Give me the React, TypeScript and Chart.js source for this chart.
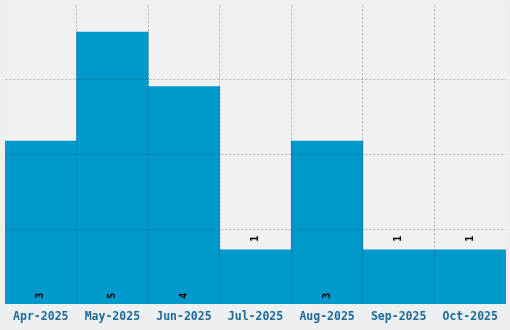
import React, { useEffect, useRef } from "react";
import { Chart, registerables } from "chart.js";

Chart.register(...registerables);

const categories = ["Apr-2025", "May-2025", "Jun-2025", "Jul-2025", "Aug-2025", "Sep-2025", "Oct-2025"];
const values = [3, 5, 4, 1, 3, 1, 1];
const yMax = 5.5;

const BAR = "#0099cc";
const PAGE_BG = "#edf0f1";
const PLOT_BG = "#f1f1f1";
const GRID = "rgba(0,0,0,0.22)";
const TICK = "#1e6a9c";
const CLEAR = "rgba(0,0,0,0)";

const bgPlugin = {
  id: "bgPlugin",
  beforeDraw(chart: any) {
    const { ctx, chartArea } = chart;
    ctx.save();
    ctx.fillStyle = PAGE_BG;
    ctx.fillRect(0, 0, chart.width, chart.height);
    ctx.fillStyle = PLOT_BG;
    ctx.fillRect(chartArea.left, chartArea.top, chartArea.right - chartArea.left, chartArea.bottom - chartArea.top);
    ctx.restore();
  },
};

const labelPlugin = {
  id: "labelPlugin",
  afterDraw(chart: any) {
    const { ctx } = chart;
    const meta = chart.getDatasetMeta(0);
    ctx.save();
    ctx.fillStyle = "#000";
    ctx.font = "bold 10px 'DejaVu Sans Mono'";
    ctx.textAlign = "center";
    ctx.textBaseline = "middle";
    meta.data.forEach((bar: any, i: number) => {
      const h = bar.base - bar.y;
      const y = h > 60 ? bar.base - 8 : bar.y - 11;
      ctx.save();
      ctx.translate(bar.x, y);
      ctx.rotate(-Math.PI / 2);
      ctx.fillText(String(values[i]), 0, 0);
      ctx.restore();
    });
    ctx.restore();
  },
};

export default function App() {
  const ref = useRef<HTMLCanvasElement>(null);
  useEffect(() => {
    document.body.style.margin = "0";
    const chart = new Chart(ref.current!, {
      type: "bar",
      data: {
        labels: categories,
        datasets: [
          {
            data: values,
            backgroundColor: BAR,
            borderWidth: 0,
            categoryPercentage: 1,
            barPercentage: 1,
          },
        ],
      },
      options: {
        animation: false,
        responsive: false,
        layout: { padding: { top: 5, left: 5, right: 4, bottom: 0 } },
        plugins: { legend: { display: false }, tooltip: { enabled: false } },
        scales: {
          x: {
            grid: {
              z: 1,
              offset: true,
              color: (c: any) =>
                c.index === undefined || c.index === 0 || c.index >= categories.length ? CLEAR : GRID,
              lineWidth: 1,
              tickLength: 0,
            },
            border: { display: false, dash: [2.5, 1.5] },
            ticks: {
              color: TICK,
              font: { family: "'DejaVu Sans Mono'", size: 11.5, weight: "bold" },
              padding: 6,
              maxRotation: 0,
            },
          },
          y: {
            display: true,
            min: 0,
            max: yMax,
            afterBuildTicks: (axis: any) => {
              axis.ticks = [0, 1, 2, 3, 4].map((i) => ({ value: (yMax * i) / 4 }));
            },
            grid: {
              z: 1,
              color: (c: any) => (c.index === undefined || c.index === 0 || c.index === 4 ? CLEAR : GRID),
              drawTicks: false,
            },
            border: { display: false, dash: [2.5, 1.5] },
            ticks: { display: false },
          },
        },
      },
      plugins: [bgPlugin, labelPlugin],
    });
    return () => chart.destroy();
  }, []);
  return <canvas ref={ref} width={510} height={330} style={{ display: "block" }} />;
}
